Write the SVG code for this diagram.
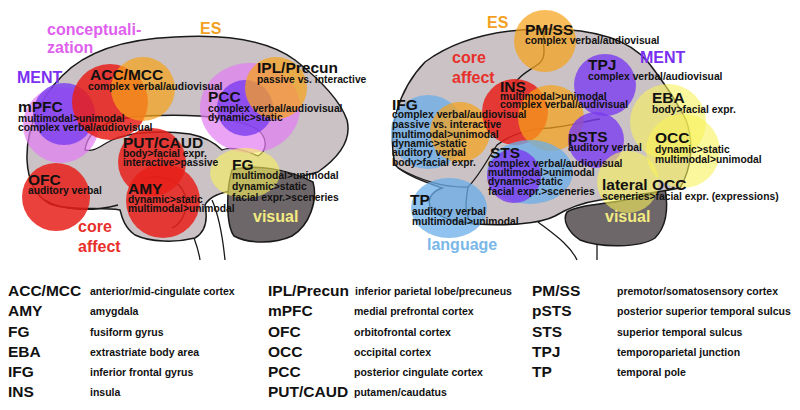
<svg xmlns="http://www.w3.org/2000/svg" width="800" height="410" viewBox="0 0 800 410">
<style>
text{font-family:"Liberation Sans",Arial,sans-serif;font-weight:bold;}
.h{font-size:15.5px;fill:#111;}
.s{font-size:10.3px;fill:#111;}
.cat{font-size:16px;}
.lg{font-size:15.5px;fill:#111;}
.ld{font-size:10.5px;fill:#111;}
.brain{fill:#cac2c5;stroke:#1a1a1a;stroke-width:1.5;}
.cereb{fill:#6e6769;stroke:#1a1a1a;stroke-width:1.5;}
.cc{fill:#fff;stroke:#1a1a1a;stroke-width:1.3;}
.ln{fill:none;stroke:#1a1a1a;stroke-width:1.3;}
.red{fill:#e8201a;fill-opacity:.85;}
.org{fill:#f7a21b;fill-opacity:.72;}
.pur{fill:#7a3cf0;fill-opacity:.8;}
.pnk{fill:#e27cf2;fill-opacity:.7;}
.blu{fill:#6aaee8;fill-opacity:.75;}
.yel{fill:#f8f25a;fill-opacity:.6;}
.cPink{fill:#e060ee;}
.cPur{fill:#7a30f0;}
.cOrg{fill:#f2a11f;}
.cRed{fill:#e8302a;}
.cBlu{fill:#7ab8e8;}
.cYel{fill:#f4ec80;}
</style>

<g id="left-brain">
  <path class="brain" d="M27,160 C26,128 40,98 62,76 C85,52 125,39 175,37 C225,34 268,40 295,60 C318,78 340,100 347,120 C352,140 338,158 318,172 C290,180 255,186 235,190 C220,193 210,196 205,205 C208,220 205,232 195,238 C175,243 150,242 135,235 C125,228 122,218 120,210 C100,207 70,211 50,204 C35,196 28,180 27,160 Z"/>
  <path class="cc" d="M85,150 C88,128 110,118 145,116 C185,114 230,116 255,128 C268,136 268,150 258,156 C245,150 232,146 222,150 C212,140 200,136 190,134 C160,130 130,132 112,140 C100,146 95,152 85,150 Z"/>
  <path class="cereb" d="M232,170 C255,163 290,170 313,182 C318,200 310,225 292,236 C275,244 248,244 234,236 C226,225 226,190 232,170 Z"/>
  <path class="ln" d="M140,180 C160,172 180,180 185,195 C190,210 180,225 172,228"/>
  <path class="ln" d="M45,200 C62,211 92,212 118,205"/>
  <path class="ln" d="M212,200 C220,218 223,240 225,260"/>
  <path class="ln" d="M194,238 C197,246 199,253 200,260"/>
</g>

<g id="left-regions">
  <circle class="pnk" cx="61" cy="125" r="38"/>
  <circle class="pur" cx="64" cy="114" r="31"/>
  <circle class="red" cx="110" cy="102" r="38"/>
  <circle class="org" cx="143" cy="89" r="32"/>
  <ellipse class="pnk" cx="250" cy="108" rx="50" ry="45"/>
  <circle class="pur" cx="245" cy="108" r="28"/>
  <circle class="org" cx="276" cy="88" r="31"/>
  <circle class="red" cx="152" cy="162" r="34"/>
  <circle class="red" cx="163" cy="201" r="37"/>
  <circle class="red" cx="56" cy="197" r="34"/>
  <ellipse class="yel" cx="245" cy="173" rx="35" ry="25"/>
</g>

<g id="right-brain">
  <path class="cereb" d="M567,212 C580,204 610,204 630,199 C650,195 660,190 665,188 C668,205 668,225 655,238 C640,248 600,248 580,240 C568,232 562,220 567,212 Z"/>
  <path class="brain" d="M395,165 C387,130 398,90 425,62 C455,40 495,30 540,29 C590,28 628,38 648,62 C662,80 675,98 686,120 C694,142 692,168 680,188 C660,192 630,196 600,200 C580,203 565,210 555,216 C540,224 505,226 475,224 C455,222 440,218 432,210 C426,202 430,192 442,188 C425,182 405,175 395,165 Z"/>
  <path class="ln" d="M398,168 C420,180 445,188 468,187 C480,175 488,158 497,145 C510,135 530,128 550,128 C570,126 585,121 600,119"/>
  <path class="ln" d="M468,187 C466,200 464,210 470,222"/>
  <path class="ln" d="M545,31 C540,45 550,56 537,65 C527,72 520,75 514,84"/>
  <path class="ln" d="M538,222 C555,235 570,245 577,260"/>
  <path class="ln" d="M597,244 L597,260"/>
</g>

<g id="right-regions">
  <circle class="org" cx="545" cy="41" r="31"/>
  <circle class="blu" cx="428" cy="132" r="37"/>
  <circle class="org" cx="460" cy="132" r="30"/>
  <circle class="red" cx="515" cy="112" r="33"/>
  <circle class="org" cx="551" cy="118" r="33"/>
  <circle class="pur" cx="605" cy="85" r="31"/>
  <circle class="pur" cx="596" cy="140" r="28"/>
  <ellipse class="blu" cx="530" cy="172" rx="43" ry="32"/>
  <circle class="pur" cx="514" cy="176" r="27"/>
  <ellipse class="blu" cx="449" cy="208" rx="38" ry="30"/>
  <circle class="yel" cx="668" cy="122" r="38"/>
  <circle class="yel" cx="683" cy="151" r="37"/>
  <circle class="yel" cx="628" cy="182" r="31"/>
</g>

<g id="left-labels">
  <text class="cat cPink" x="47" y="35">conceptuali-</text>
  <text class="cat cPink" x="47" y="53">zation</text>
  <text class="cat cPur" x="17" y="83">MENT</text>
  <text class="cat cOrg" x="200" y="34">ES</text>
  <text class="cat cRed" x="78" y="232">core</text>
  <text class="cat cRed" x="78" y="252">affect</text>
  <text class="cat cYel" x="253" y="222">visual</text>
  <g id="acc-mcc"><text class="h" x="90" y="80">ACC/MCC</text><text class="s" x="88" y="90">complex verbal/audiovisual</text></g>
  <g id="mpfc"><text class="h" x="18" y="112">mPFC</text><text class="s" x="18" y="122">multimodal&gt;unimodal</text><text class="s" x="18" y="131">complex verbal/audiovisual</text></g>
  <g id="pcc"><text class="h" x="208" y="102">PCC</text><text class="s" x="208" y="112">complex verbal/audiovisual</text><text class="s" x="208" y="121">dynamic&gt;static</text></g>
  <g id="ipl-precun"><text class="h" x="257" y="73">IPL/Precun</text><text class="s" x="257" y="83">passive vs. interactive</text></g>
  <g id="put-caud"><text class="h" x="123" y="148">PUT/CAUD</text><text class="s" x="123" y="157">body&gt;facial expr.</text><text class="s" x="123" y="166">interactive&gt;passive</text></g>
  <g id="ofc"><text class="h" x="28" y="185">OFC</text><text class="s" x="28" y="194">auditory verbal</text></g>
  <g id="amy"><text class="h" x="128" y="194">AMY</text><text class="s" x="128" y="203">dynamic&gt;static</text><text class="s" x="128" y="212">multimodal&gt;unimodal</text></g>
  <g id="fg"><text class="h" x="232" y="170">FG</text><text class="s" x="232" y="179">multimodal&gt;unimodal</text><text class="s" x="232" y="190">dynamic&gt;static</text><text class="s" x="232" y="201">facial expr.&gt;sceneries</text></g>
</g>

<g id="right-labels">
  <text class="cat cOrg" x="487" y="28">ES</text>
  <text class="cat cRed" x="452" y="63">core</text>
  <text class="cat cRed" x="452" y="83">affect</text>
  <text class="cat cPur" x="640" y="63">MENT</text>
  <text class="cat cBlu" x="427" y="250">language</text>
  <text class="cat cYel" x="605" y="222">visual</text>
  <g id="pm-ss"><text class="h" x="525" y="35">PM/SS</text><text class="s" x="525" y="44">complex verbal/audiovisual</text></g>
  <g id="ins"><text class="h" x="500" y="92">INS</text><text class="s" x="500" y="100">multimodal&gt;unimodal</text><text class="s" x="500" y="108">complex verbal/audivisual</text></g>
  <g id="tpj"><text class="h" x="588" y="70">TPJ</text><text class="s" x="588" y="80">complex verbal/audiovisual</text></g>
  <g id="eba"><text class="h" x="652" y="103">EBA</text><text class="s" x="652" y="113">body&gt;facial expr.</text></g>
  <g id="ifg"><text class="h" x="392" y="110">IFG</text><text class="s" x="392" y="118">complex verbal/audiovisual</text><text class="s" x="392" y="128">passive vs. interactive</text><text class="s" x="392" y="138">multimodal&gt;unimodal</text><text class="s" x="392" y="147">dynamic&gt;static</text><text class="s" x="392" y="156">auditory verbal</text><text class="s" x="392" y="166">body&gt;facial expr.</text></g>
  <g id="psts"><text class="h" x="568" y="142">pSTS</text><text class="s" x="568" y="151">auditory verbal</text></g>
  <g id="sts"><text class="h" x="490" y="158">STS</text><text class="s" x="488" y="167">complex verbal/audiovisual</text><text class="s" x="488" y="176">multimodal&gt;unimodal</text><text class="s" x="488" y="185">dynamic&gt;static</text><text class="s" x="488" y="195">facial expr.&gt;sceneries</text></g>
  <g id="occ"><text class="h" x="655" y="143">OCC</text><text class="s" x="655" y="153">dynamic&gt;static</text><text class="s" x="655" y="163">multimodal&gt;unimodal</text></g>
  <g id="lateral-occ"><text class="h" x="602" y="190">lateral OCC</text><text class="s" x="602" y="200">sceneries&gt;facial expr. (expressions)</text></g>
  <g id="tp"><text class="h" x="410" y="205">TP</text><text class="s" x="412" y="215">auditory verbal</text><text class="s" x="412" y="225">multimodal&gt;unimodal</text></g>
</g>

<g id="legend">
  <text class="lg" x="8" y="296">ACC/MCC</text><text class="ld" x="90" y="295">anterior/mid-cingulate cortex</text>
  <text class="lg" x="8" y="316">AMY</text><text class="ld" x="90" y="315">amygdala</text>
  <text class="lg" x="8" y="337">FG</text><text class="ld" x="90" y="336">fusiform gyrus</text>
  <text class="lg" x="8" y="357">EBA</text><text class="ld" x="90" y="356">extrastriate body area</text>
  <text class="lg" x="8" y="377">IFG</text><text class="ld" x="90" y="376">inferior frontal gyrus</text>
  <text class="lg" x="8" y="397">INS</text><text class="ld" x="90" y="396">insula</text>
  <text class="lg" x="268" y="296">IPL/Precun</text><text class="ld" x="355" y="295">inferior parietal lobe/precuneus</text>
  <text class="lg" x="268" y="316">mPFC</text><text class="ld" x="354" y="315">medial prefrontal cortex</text>
  <text class="lg" x="268" y="337">OFC</text><text class="ld" x="354" y="336">orbitofrontal cortex</text>
  <text class="lg" x="268" y="357">OCC</text><text class="ld" x="354" y="356">occipital cortex</text>
  <text class="lg" x="268" y="377">PCC</text><text class="ld" x="354" y="376">posterior cingulate cortex</text>
  <text class="lg" x="268" y="397">PUT/CAUD</text><text class="ld" x="354" y="396">putamen/caudatus</text>
  <text class="lg" x="532" y="296">PM/SS</text><text class="ld" x="617" y="295">premotor/somatosensory cortex</text>
  <text class="lg" x="532" y="316">pSTS</text><text class="ld" x="617" y="315">posterior superior temporal sulcus</text>
  <text class="lg" x="532" y="337">STS</text><text class="ld" x="617" y="336">superior temporal sulcus</text>
  <text class="lg" x="532" y="357">TPJ</text><text class="ld" x="617" y="356">temporoparietal junction</text>
  <text class="lg" x="532" y="377">TP</text><text class="ld" x="617" y="376">temporal pole</text>
</g>
</svg>
